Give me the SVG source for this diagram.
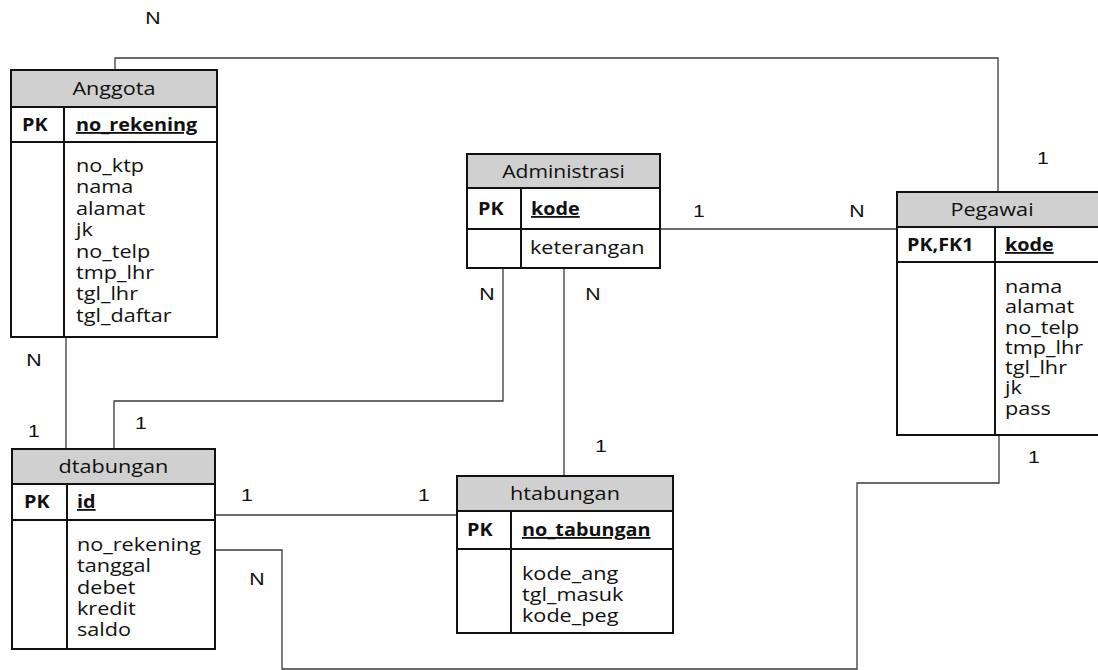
<svg xmlns="http://www.w3.org/2000/svg" width="1098" height="670" viewBox="0 0 1098 670">
  <style>
    .body { fill: #ffffff; stroke: #111111; stroke-width: 2; }
    .head { fill: #d0d0d0; stroke: #111111; stroke-width: 2; }
    .div { stroke: #111111; stroke-width: 2; }
    .conn { fill: none; stroke: #3a3a3a; stroke-width: 1.3; }
    .t { font-family: "Open Sans", "Liberation Sans", sans-serif; font-size: 18.5px; fill: #111111; }
    .b { font-weight: bold; }
    .u { text-decoration: underline; }
    .lbl { font-family: "Liberation Sans", Arial, sans-serif; font-size: 17px; fill: #111111; text-anchor: middle; }
  </style>

  <!-- relationship lines -->
  <g id="connectors">
    <path class="conn" d="M115 70 V58 H998 V192"/>
    <path class="conn" d="M66 337 V449"/>
    <path class="conn" d="M114 449 V401 H503 V268"/>
    <path class="conn" d="M564 268 V476"/>
    <path class="conn" d="M660 229 H897"/>
    <path class="conn" d="M215 515 H457"/>
    <path class="conn" d="M215 550 H282 V669 H857 V483 H999 V435"/>
  </g>

  <!-- cardinality labels -->
  <g id="labels">
    <text class="lbl" transform="translate(153,24) scale(1.25,1)">N</text>
    <text class="lbl" transform="translate(1043,164) scale(1.25,1)">1</text>
    <text class="lbl" transform="translate(699,217) scale(1.25,1)">1</text>
    <text class="lbl" transform="translate(857,217) scale(1.25,1)">N</text>
    <text class="lbl" transform="translate(487,300) scale(1.25,1)">N</text>
    <text class="lbl" transform="translate(593,300) scale(1.25,1)">N</text>
    <text class="lbl" transform="translate(601,452) scale(1.25,1)">1</text>
    <text class="lbl" transform="translate(34,366) scale(1.25,1)">N</text>
    <text class="lbl" transform="translate(34,437) scale(1.25,1)">1</text>
    <text class="lbl" transform="translate(141,429) scale(1.25,1)">1</text>
    <text class="lbl" transform="translate(247,501) scale(1.25,1)">1</text>
    <text class="lbl" transform="translate(424,501) scale(1.25,1)">1</text>
    <text class="lbl" transform="translate(257,585) scale(1.25,1)">N</text>
    <text class="lbl" transform="translate(1034,463) scale(1.25,1)">1</text>
  </g>

  <!-- Anggota -->
  <g id="anggota">
    <rect class="body" x="11" y="107" width="206" height="230"/>
    <rect class="head" x="11" y="70" width="206" height="37"/>
    <line class="div" x1="11" y1="142" x2="217" y2="142"/>
    <line class="div" x1="64" y1="107" x2="64" y2="337"/>
    <text class="t" text-anchor="middle" transform="translate(114,95) scale(1.17,1)">Anggota</text>
    <text class="t b" transform="translate(22,131) scale(1.07,1)">PK</text>
    <text class="t b u" transform="translate(76,131) scale(1.07,1)">no_rekening</text>
    <text class="t" transform="translate(76,172) scale(1.17,1)">
      <tspan x="0" dy="0">no_ktp</tspan>
      <tspan x="0" dy="21.4">nama</tspan>
      <tspan x="0" dy="21.4">alamat</tspan>
      <tspan x="0" dy="21.4">jk</tspan>
      <tspan x="0" dy="21.4">no_telp</tspan>
      <tspan x="0" dy="21.4">tmp_lhr</tspan>
      <tspan x="0" dy="21.4">tgl_lhr</tspan>
      <tspan x="0" dy="21.4">tgl_daftar</tspan>
    </text>
  </g>

  <!-- Administrasi -->
  <g id="administrasi">
    <rect class="body" x="467" y="188" width="193" height="80"/>
    <rect class="head" x="467" y="154" width="193" height="34"/>
    <line class="div" x1="467" y1="229" x2="660" y2="229"/>
    <line class="div" x1="521" y1="188" x2="521" y2="268"/>
    <text class="t" text-anchor="middle" transform="translate(563.5,177.5) scale(1.14,1)">Administrasi</text>
    <text class="t b" transform="translate(478,215) scale(1.07,1)">PK</text>
    <text class="t b u" transform="translate(531,215) scale(1.07,1)">kode</text>
    <text class="t" transform="translate(530,254) scale(1.17,1)">keterangan</text>
  </g>

  <!-- Pegawai -->
  <g id="pegawai">
    <rect class="body" x="897" y="227" width="205" height="208"/>
    <rect class="head" x="897" y="192" width="205" height="35"/>
    <line class="div" x1="897" y1="262" x2="1102" y2="262"/>
    <line class="div" x1="995" y1="227" x2="995" y2="435"/>
    <text class="t" text-anchor="middle" transform="translate(992,216) scale(1.17,1)">Pegawai</text>
    <text class="t b" transform="translate(907,251) scale(1.07,1)">PK,FK1</text>
    <text class="t b u" transform="translate(1005,251) scale(1.07,1)">kode</text>
    <text class="t" transform="translate(1005,293) scale(1.17,1)">
      <tspan x="0" dy="0">nama</tspan>
      <tspan x="0" dy="20.3">alamat</tspan>
      <tspan x="0" dy="20.3">no_telp</tspan>
      <tspan x="0" dy="20.3">tmp_lhr</tspan>
      <tspan x="0" dy="20.3">tgl_lhr</tspan>
      <tspan x="0" dy="20.3">jk</tspan>
      <tspan x="0" dy="20.3">pass</tspan>
    </text>
  </g>

  <!-- dtabungan -->
  <g id="dtabungan">
    <rect class="body" x="12" y="484" width="203" height="165"/>
    <rect class="head" x="12" y="449" width="203" height="35"/>
    <line class="div" x1="12" y1="520" x2="215" y2="520"/>
    <line class="div" x1="67" y1="484" x2="67" y2="649"/>
    <text class="t" text-anchor="middle" transform="translate(113.5,473) scale(1.17,1)">dtabungan</text>
    <text class="t b" transform="translate(24,508) scale(1.07,1)">PK</text>
    <text class="t b u" transform="translate(77,508) scale(1.07,1)">id</text>
    <text class="t" transform="translate(77,551) scale(1.17,1)">
      <tspan x="0" dy="0">no_rekening</tspan>
      <tspan x="0" dy="21.3">tanggal</tspan>
      <tspan x="0" dy="21.3">debet</tspan>
      <tspan x="0" dy="21.3">kredit</tspan>
      <tspan x="0" dy="21.3">saldo</tspan>
    </text>
  </g>

  <!-- htabungan -->
  <g id="htabungan">
    <rect class="body" x="457" y="511" width="216" height="122"/>
    <rect class="head" x="457" y="476" width="216" height="35"/>
    <line class="div" x1="457" y1="549" x2="673" y2="549"/>
    <line class="div" x1="511" y1="511" x2="511" y2="633"/>
    <text class="t" text-anchor="middle" transform="translate(565,500) scale(1.17,1)">htabungan</text>
    <text class="t b" transform="translate(467,536) scale(1.07,1)">PK</text>
    <text class="t b u" transform="translate(522,536) scale(1.07,1)">no_tabungan</text>
    <text class="t" transform="translate(522,580) scale(1.17,1)">
      <tspan x="0" dy="0">kode_ang</tspan>
      <tspan x="0" dy="21">tgl_masuk</tspan>
      <tspan x="0" dy="21">kode_peg</tspan>
    </text>
  </g>
</svg>
